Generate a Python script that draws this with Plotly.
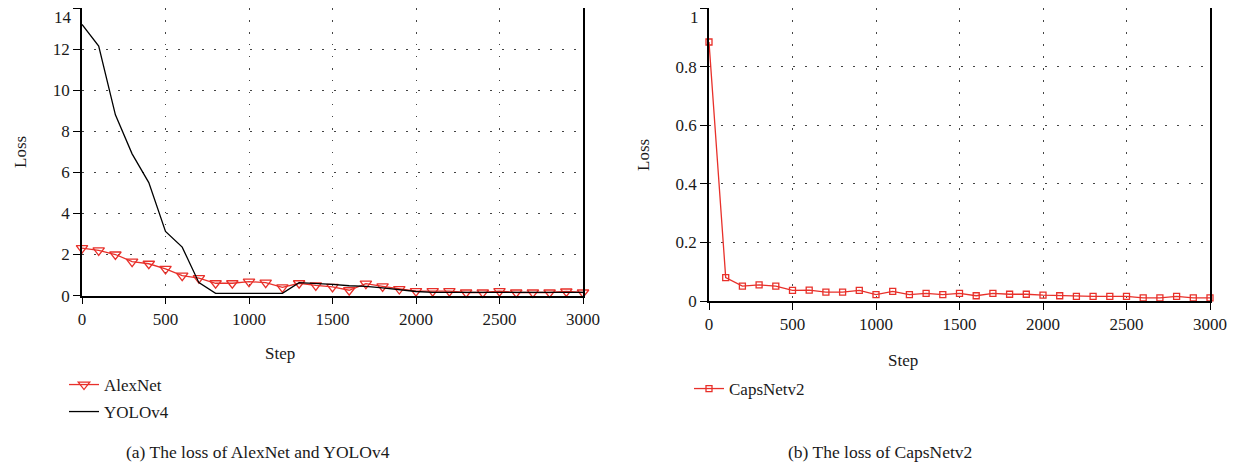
import plotly.graph_objects as go

steps = list(range(0, 3001, 100))

alexnet = [2.31, 2.2, 2.0, 1.65, 1.55, 1.3, 0.97, 0.85, 0.6, 0.6, 0.68,
           0.63, 0.4, 0.6, 0.5, 0.42, 0.26, 0.58, 0.45, 0.32, 0.22,
           0.22, 0.22, 0.15, 0.15, 0.22, 0.15, 0.15, 0.15, 0.2, 0.15]

yolov4 = [13.2, 12.15, 8.8, 6.9, 5.5, 3.12, 2.36, 0.63, 0.11, 0.11, 0.11,
          0.11, 0.11, 0.63, 0.6, 0.55, 0.48, 0.45, 0.38, 0.3, 0.2,
          0.16, 0.16, 0.16, 0.16, 0.16, 0.16, 0.16, 0.16, 0.16, 0.16]

capsnet = [0.884, 0.08, 0.051, 0.055, 0.051, 0.036, 0.037, 0.03, 0.03, 0.036, 0.022,
           0.033, 0.022, 0.026, 0.022, 0.026, 0.018, 0.026, 0.023, 0.023, 0.02,
           0.018, 0.016, 0.016, 0.016, 0.016, 0.011, 0.011, 0.016, 0.011, 0.011]

left_yticks = [0, 2, 4, 6, 8, 10, 12, 14]
left_yticklabels = ["0", "2", "4", "6", "8", "10", "12", "14"]
right_yticks = [0, 0.2, 0.4, 0.6, 0.8, 1]
right_yticklabels = ["0", "0.2", "0.4", "0.6", "0.8", "1"]
xticks = [0, 500, 1000, 1500, 2000, 2500, 3000]

RED = "#e8302a"
FONT = "Liberation Serif, Times New Roman, serif"
TXT = "#1a1a1a"
OFF = 8  # default page body margin
W, H = 1245 - OFF, 468 - OFF


def px(x):
    return (x - OFF) / W


def py(y):
    return 1 - (y - OFF) / H


fig = go.Figure()

fig.add_trace(go.Scatter(
    x=steps, y=alexnet, name="AlexNet", mode="lines+markers",
    line=dict(color=RED, width=1.3),
    marker=dict(symbol="triangle-down-open", size=10, color=RED, line=dict(width=1.3)),
    xaxis="x", yaxis="y", cliponaxis=False, legend="legend"))
fig.add_trace(go.Scatter(
    x=steps, y=yolov4, name="YOLOv4", mode="lines",
    line=dict(color="black", width=1.3),
    xaxis="x", yaxis="y", cliponaxis=False, legend="legend2"))
fig.add_trace(go.Scatter(
    x=steps, y=capsnet, name="CapsNetv2", mode="lines+markers",
    line=dict(color=RED, width=1.3),
    marker=dict(symbol="square-open", size=6, color=RED, line=dict(width=1.3)),
    xaxis="x2", yaxis="y2", cliponaxis=False, legend="legend3"))

grid = dict(showgrid=True, gridcolor="#444", gridwidth=1.2, griddash="1.5px,10.5px")
axline = dict(showline=True, linecolor="black", linewidth=1.5, mirror=True,
              ticks="outside", ticklen=7, tickcolor="black", tickwidth=1.2,
              zeroline=False, automargin=False,
              tickfont=dict(family=FONT, size=17, color=TXT))

legfont = dict(family=FONT, size=17, color=TXT)

# the topmost y tick labels are drawn as annotations, nudged down to stay on the page
left_tt = left_yticklabels[:-1] + [""]
right_tt = right_yticklabels[:-1] + [""]

fig.update_layout(
    width=W, height=H, margin=dict(l=0, r=0, t=0, b=0),
    paper_bgcolor="white", plot_bgcolor="white",
    font=dict(family=FONT, size=17, color=TXT),
    xaxis=dict(domain=[px(82), px(583)], range=[0, 3000], tickvals=xticks,
               anchor="y", **grid, **axline),
    yaxis=dict(domain=[py(295.6), py(8)], range=[0, 14], tickvals=left_yticks,
               ticktext=left_tt, anchor="x", **grid, **axline),
    xaxis2=dict(domain=[px(709), px(1210)], range=[0, 3000], tickvals=xticks,
                anchor="y2", **grid, **axline),
    yaxis2=dict(domain=[py(301), py(8)], range=[0, 1], tickvals=right_yticks,
                ticktext=right_tt, anchor="x2", **grid, **axline),
    legend=dict(x=px(64), y=py(367), xanchor="left", yanchor="top",
                bgcolor="rgba(0,0,0,0)", font=legfont),
    legend2=dict(x=px(64), y=py(394), xanchor="left", yanchor="top",
                 bgcolor="rgba(0,0,0,0)", font=legfont),
    legend3=dict(x=px(689), y=py(371), xanchor="left", yanchor="top",
                 bgcolor="rgba(0,0,0,0)", font=legfont),
    showlegend=True,
)

fig.add_annotation(text=left_yticklabels[-1], xref="x domain", yref="y",
                   x=0, y=left_yticks[-1], xanchor="right", yanchor="top",
                   xshift=-8, yshift=2, showarrow=False,
                   font=dict(family=FONT, size=17, color=TXT))
fig.add_annotation(text=right_yticklabels[-1], xref="x2 domain", yref="y2",
                   x=0, y=right_yticks[-1], xanchor="right", yanchor="top",
                   xshift=-8, yshift=2, showarrow=False,
                   font=dict(family=FONT, size=17, color=TXT))

ann = [
    dict(text="Loss", x=20, y=152, textangle=-90),
    dict(text="Loss", x=643, y=155, textangle=-90),
    dict(text="Step", x=280, y=353),
    dict(text="Step", x=903, y=360),
    dict(text="(a) The loss of AlexNet and YOLOv4", x=258, y=452, size=17.5),
    dict(text="(b) The loss of CapsNetv2", x=880, y=452, size=17.5),
]
for a in ann:
    fig.add_annotation(text=a["text"], x=px(a["x"]), y=py(a["y"]), xref="paper", yref="paper",
                       showarrow=False, xanchor="center", yanchor="middle",
                       textangle=a.get("textangle", 0),
                       font=dict(family=FONT, size=a.get("size", 17), color=TXT))

fig.write_html("out.html")
